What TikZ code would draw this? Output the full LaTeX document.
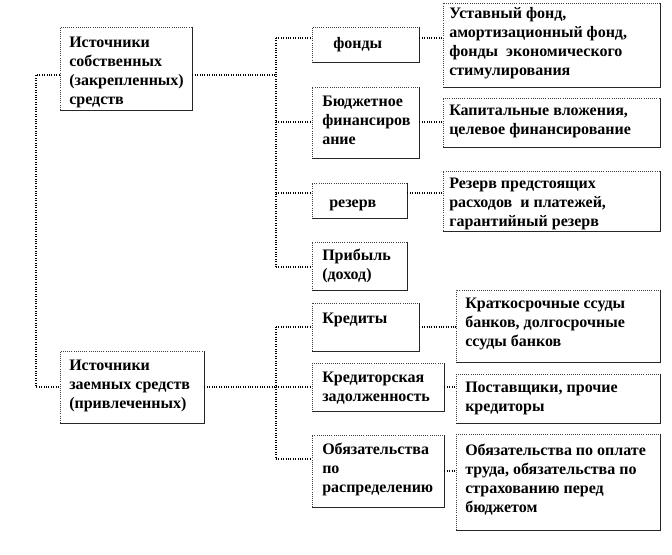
\documentclass[tikz,border=0pt]{standalone}
\usepackage{fontspec}
\setmainfont{Liberation Serif}
\usetikzlibrary{fit}
\tikzset{
  x=0.75pt, y=-0.75pt,
  box/.style={draw=black!75, densely dotted, line width=0.6pt, inner sep=0pt, fill=white},
  shadowline/.style={draw=black!85, line width=0.9pt},
  txt/.style={anchor=north west, inner sep=0pt, align=left,
    font=\fontsize{12}{14.2}\selectfont\bfseries},
  conn/.style={draw=black, densely dotted, line width=0.8pt},
}
\newcommand\tx[4]{\node[txt] (#1) at (#2,#3-13.25) {\strut #4};}
\begin{document}
\begin{tikzpicture}
\useasboundingbox (0,0) rectangle (672,555);
% boxes
\node[box, fit={(60,27) (192,110)}] (b1) {};
\node[box, fit={(60,351) (204,423)}] (b2) {};
\node[box, fit={(312,27) (419,62)}] (f1) {};
\node[box, fit={(312,87) (419,158)}] (f2) {};
\node[box, fit={(312,183) (407,218)}] (f3) {};
\node[box, fit={(312,242) (407,290)}] (f4) {};
\node[box, fit={(312,303) (419,351)}] (k1) {};
\node[box, fit={(312,363) (444,411)}] (k2) {};
\node[box, fit={(312,435) (444,507)}] (k3) {};
\node[box, fit={(443,3) (660,87)}] (r1) {};
\node[box, fit={(443,98) (660,147)}] (r2) {};
\node[box, fit={(443,171) (660,231)}] (r3) {};
\node[box, fit={(456,290) (660,362)}] (r4) {};
\node[box, fit={(456,374) (660,423)}] (r5) {};
\node[box, fit={(456,434) (660,530)}] (r6) {};
\foreach \n in {b1,b2,f1,f2,f3,f4,k1,k2,k3,r1,r2,r3,r4,r5,r6}
  \draw[shadowline] (\n.north east) -- (\n.south east) -- (\n.south west);
% texts
\tx{tb1}{69}{47}{Источники\\собственных\\(закрепленных)\\средств}
\tx{tb2}{69}{370}{Источники\\заемных средств\\(привлеченных)}
\tx{tf1}{333}{48}{фонды}
\tx{tf2}{322}{106}{Бюджетное\\финансиров\\ание}
\tx{tf3}{329}{207}{резерв}
\tx{tf4}{322}{260}{Прибыль\\(доход)}
\tx{tk1}{322}{323}{Кредиты}
\tx{tk2}{322}{382}{Кредиторская\\задолженность}
\tx{tk3}{322}{454}{Обязательства\\по\\распределению}
\tx{tr1}{449}{18}{Уставный фонд,\\амортизационный фонд,\\фонды~ экономического\\стимулирования}
\tx{tr2}{449}{115}{Капитальные вложения,\\целевое финансирование}
\tx{tr3}{449}{188}{Резерв предстоящих\\расходов~ и платежей,\\гарантийный резерв}
\tx{tr4}{465}{308}{Краткосрочные ссуды\\банков, долгосрочные\\ссуды банков}
\tx{tr5}{465}{392}{Поставщики, прочие\\кредиторы}
\tx{tr6}{465}{455}{Обязательства по оплате\\труда, обязательства по\\страхованию перед\\бюджетом}
% connectors
\coordinate (L1) at (36,75);
\coordinate (L2) at (36,387);
\coordinate (V1) at (276,38);
\coordinate (V1m) at (276,75);
\coordinate (V2) at (276,122);
\coordinate (V3) at (276,193);
\coordinate (V4) at (276,267);
\coordinate (W1) at (276,327);
\coordinate (W2) at (276,387);
\coordinate (W3) at (276,459);
\draw[conn] (b1.west |- L1) -- (L1) -- (L2) -- (b2.west |- L2);
\draw[conn] (b1.east |- V1m) -- (V1m);
\draw[conn] (V1) -- (V4);
\draw[conn] (V1) -- (f1.west |- V1);
\draw[conn] (V2) -- (f2.west |- V2);
\draw[conn] (V3) -- (f3.west |- V3);
\draw[conn] (V4) -- (f4.west |- V4);
\draw[conn] (b2.east |- W2) -- (W2);
\draw[conn] (W1) -- (W3);
\draw[conn] (W1) -- (k1.west |- W1);
\draw[conn] (W2) -- (k2.west |- W2);
\draw[conn] (W3) -- (k3.west |- W3);
\draw[conn] (f1.east |- V1) -- (r1.west |- V1);
\draw[conn] (f2.east |- V2) -- (r2.west |- V2);
\draw[conn] (f3.east |- V3) -- (r3.west |- V3);
\draw[conn] (k1.east |- W1) -- (r4.west |- W1);
\draw[conn] (k2.east |- W2) -- (r5.west |- W2);
\coordinate (X6) at (450,471);
\draw[conn] (k3.east |- X6) -- (r6.west |- X6);
\end{tikzpicture}
\end{document}
